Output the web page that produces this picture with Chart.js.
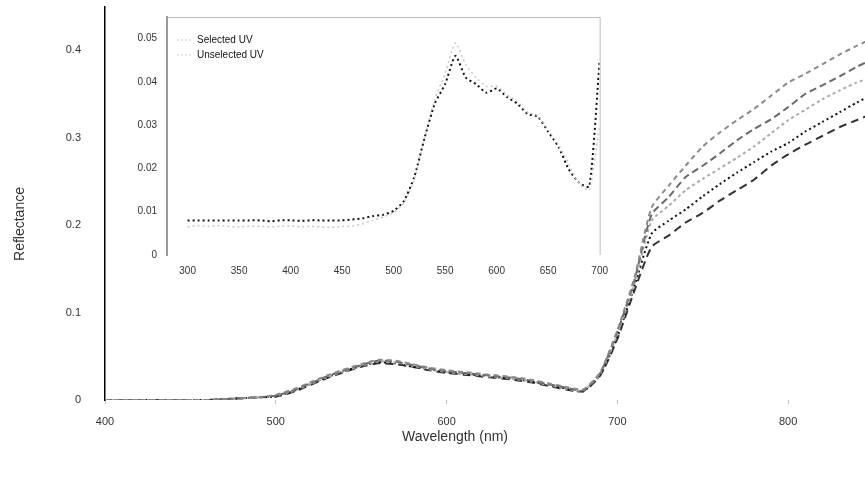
<!DOCTYPE html>
<html>
<head>
<meta charset="utf-8">
<script src="https://cdn.jsdelivr.net/npm/chart.js@4/dist/chart.umd.min.js"></script>
<style>
  body { margin: 0; background: #fff; }
  #wrap { position: relative; width: 865px; height: 483px; }
  #main { position: absolute; left: 0; top: 0; }
  #inset { position: absolute; left: 125px; top: 10px; background: #fff; }
</style>
</head>
<body>
<div id="wrap">
  <canvas id="main" width="865" height="483"></canvas>
  <canvas id="inset" width="485" height="270"></canvas>
</div>
<script>
// ─── main chart data ───
const wavelengths = [400, 410, 420, 430, 440, 450, 460, 470, 480, 490, 500, 510, 520, 530, 540, 550,
  560, 570, 580, 590, 600, 610, 620, 630, 640, 650, 660, 670, 680, 690, 700, 710,
  720, 730, 740, 750, 760, 770, 780, 790, 800, 810, 820, 830, 840, 850];

const leaf1 = [0, 0, 0, 0, 0, 0, 0, 0.001, 0.002, 0.003, 0.006, 0.012, 0.02, 0.028, 0.035, 0.041,
  0.046, 0.045, 0.041, 0.037, 0.034, 0.032, 0.03, 0.028, 0.026, 0.023, 0.019, 0.015, 0.012, 0.032, 0.08, 0.14,
  0.22, 0.245, 0.268, 0.29, 0.306, 0.32, 0.333, 0.348, 0.363, 0.373, 0.384, 0.395, 0.405, 0.414];
const leaf2 = [0, 0, 0, 0, 0, 0, 0, 0.001, 0.002, 0.003, 0.005, 0.011, 0.019, 0.027, 0.034, 0.04,
  0.045, 0.044, 0.04, 0.036, 0.033, 0.031, 0.029, 0.027, 0.025, 0.022, 0.018, 0.014, 0.011, 0.031, 0.078, 0.137,
  0.212, 0.232, 0.255, 0.268, 0.282, 0.297, 0.31, 0.321, 0.335, 0.35, 0.36, 0.37, 0.381, 0.39];
const leaf3 = [0, 0, 0, 0, 0, 0, 0, 0.001, 0.002, 0.003, 0.005, 0.01, 0.018, 0.026, 0.033, 0.039,
  0.044, 0.043, 0.039, 0.035, 0.032, 0.03, 0.028, 0.026, 0.024, 0.021, 0.017, 0.013, 0.011, 0.03, 0.075, 0.133,
  0.205, 0.222, 0.24, 0.253, 0.265, 0.277, 0.29, 0.305, 0.32, 0.332, 0.344, 0.354, 0.363, 0.37];
const leaf4 = [0, 0, 0, 0, 0, 0, 0, 0.001, 0.002, 0.003, 0.004, 0.01, 0.018, 0.026, 0.033, 0.039,
  0.043, 0.042, 0.038, 0.035, 0.032, 0.03, 0.028, 0.026, 0.024, 0.021, 0.017, 0.013, 0.01, 0.029, 0.072, 0.13,
  0.19, 0.205, 0.218, 0.233, 0.247, 0.26, 0.272, 0.284, 0.294, 0.307, 0.318, 0.329, 0.34, 0.35];
const leaf5 = [0, 0, 0, 0, 0, 0, 0, 0.001, 0.002, 0.003, 0.004, 0.009, 0.017, 0.025, 0.032, 0.038,
  0.042, 0.041, 0.038, 0.034, 0.031, 0.029, 0.027, 0.025, 0.023, 0.02, 0.016, 0.012, 0.01, 0.028, 0.07, 0.125,
  0.175, 0.188, 0.203, 0.214, 0.228, 0.24, 0.252, 0.268, 0.281, 0.292, 0.302, 0.312, 0.32, 0.328];

// ─── inset data ───
const insetWavelengths = [300, 310, 320, 330, 340, 350, 360, 370, 380, 390, 400, 410, 420, 430, 440, 450,
  460, 470, 480, 490, 500, 510, 520, 530, 540, 550, 560, 570, 580, 590, 600, 610,
  620, 630, 640, 650, 660, 670, 680, 690, 700];
const selectedUV = [0.008, 0.008, 0.008, 0.008, 0.008, 0.008, 0.008, 0.008, 0.0078, 0.008, 0.008, 0.0079,
  0.008, 0.008, 0.008, 0.008, 0.0082, 0.0085, 0.009, 0.0093, 0.0102, 0.0125, 0.018, 0.027, 0.035, 0.0395,
  0.046, 0.041, 0.0395, 0.0375, 0.0385, 0.0365, 0.035, 0.0326, 0.032, 0.0285, 0.025, 0.0198, 0.0167, 0.0158, 0.045];
const otherUV = [0.0065, 0.0068, 0.0066, 0.0068, 0.0066, 0.0065, 0.0067, 0.0066, 0.0065, 0.0066, 0.0067, 0.0065,
  0.0066, 0.0065, 0.0064, 0.0066, 0.0067, 0.0072, 0.008, 0.0088, 0.0098, 0.012, 0.0175, 0.027, 0.036, 0.042,
  0.049, 0.044, 0.041, 0.039, 0.039, 0.037, 0.0355, 0.033, 0.0322, 0.029, 0.0255, 0.021, 0.0165, 0.015, 0.03];
const insetLabels = ['Selected UV', 'Unselected UV'];

const FONT = "'Liberation Sans', Arial, sans-serif";
const INK = '#333';

function pairs(xs, ys) {
  return xs.map((x, i) => ({ x, y: ys[i] }));
}

function line(data, color, dash, width) {
  return {
    data,
    borderColor: color,
    borderDash: dash,
    borderWidth: width,
    pointRadius: 0,
    fill: false,
    tension: 0.2,
  };
}

// axis titles for the main chart
const mainTitles = {
  id: 'mainTitles',
  afterDraw(chart) {
    const { ctx } = chart;
    ctx.save();
    ctx.fillStyle = INK;
    ctx.font = `14px ${FONT}`;
    ctx.textAlign = 'center';
    ctx.textBaseline = 'middle';
    ctx.fillText('Wavelength (nm)', 455, 437);
    ctx.translate(20, 224);
    ctx.rotate(-Math.PI / 2);
    ctx.fillText('Reflectance', 0, 0);
    ctx.restore();
  },
};

new Chart(document.getElementById('main'), {
  type: 'line',
  data: {
    datasets: [
      line(pairs(wavelengths, leaf1), '#8a8a8a', [5, 4], 2),
      line(pairs(wavelengths, leaf2), '#6a6a6a', [7, 4], 2),
      line(pairs(wavelengths, leaf3), '#aaaaaa', [3, 3], 2),
      line(pairs(wavelengths, leaf4), '#111111', [2, 3], 2),
      line(pairs(wavelengths, leaf5), '#333333', [8, 5], 2),
    ],
  },
  options: {
    responsive: false,
    animation: false,
    layout: { padding: { top: 0, right: 0, left: 0, bottom: 0 } },
    plugins: { legend: { display: false }, tooltip: { enabled: false } },
    scales: {
      x: {
        type: 'linear',
        min: 400,
        max: 845,
        afterFit(s) { s.height = 83; },
        ticks: {
          stepSize: 100,
          includeBounds: false,
          color: INK,
          font: { family: FONT, size: 11 },
          padding: 11,
          maxRotation: 0,
        },
        grid: { drawOnChartArea: false, tickLength: 4, color: '#bbb' },
        border: { display: false },
      },
      y: {
        min: 0,
        max: 0.45,
        afterFit(s) { s.width = 105; },
        ticks: {
          stepSize: 0.1,
          includeBounds: false,
          color: INK,
          font: { family: FONT, size: 11 },
          padding: 0,
        },
        grid: { drawOnChartArea: false, tickLength: 24, tickColor: 'rgba(0,0,0,0)' },
        border: { color: '#000', width: 1.5 },
      },
    },
  },
  plugins: [mainTitles],
});

// inset frame + legend
const insetDeco = {
  id: 'insetDeco',
  afterDraw(chart) {
    const { ctx, chartArea: a } = chart;
    ctx.save();
    ctx.strokeStyle = '#bbb';
    ctx.lineWidth = 1;
    ctx.beginPath();
    ctx.moveTo(a.left, a.top + 0.5);
    ctx.lineTo(a.right + 0.5, a.top + 0.5);
    ctx.lineTo(a.right + 0.5, a.bottom);
    ctx.stroke();

    ctx.font = `10px ${FONT}`;
    ctx.textBaseline = 'middle';
    insetLabels.forEach((label, i) => {
      const y = a.top + 23 + i * 15;
      ctx.strokeStyle = '#ccc';
      ctx.setLineDash([2, 2]);
      ctx.beginPath();
      ctx.moveTo(a.left + 10, y);
      ctx.lineTo(a.left + 24, y);
      ctx.stroke();
      ctx.setLineDash([]);
      ctx.fillStyle = '#111';
      ctx.fillText(label, a.left + 30, y);
    });
    ctx.restore();
  },
};

new Chart(document.getElementById('inset'), {
  type: 'line',
  data: {
    datasets: [
      line(pairs(insetWavelengths, otherUV), '#c8c8c8', [2, 3], 1.5),
      line(pairs(insetWavelengths, selectedUV), '#111', [2, 3], 2),
    ],
  },
  options: {
    responsive: false,
    animation: false,
    layout: { padding: { top: 7, right: 10, left: 0, bottom: 0 } },
    plugins: { legend: { display: false }, tooltip: { enabled: false } },
    scales: {
      x: {
        type: 'linear',
        min: 280,
        max: 700,
        afterFit(s) { s.height = 25; },
        ticks: {
          stepSize: 50,
          includeBounds: false,
          color: INK,
          font: { family: FONT, size: 10 },
          padding: 2,
          maxRotation: 0,
        },
        grid: { display: false },
        border: { display: false },
      },
      y: {
        min: 0,
        max: 0.055,
        afterFit(s) { s.width = 42; },
        ticks: {
          stepSize: 0.01,
          includeBounds: false,
          color: INK,
          font: { family: FONT, size: 10 },
          padding: 0,
        },
        grid: { drawOnChartArea: false, tickLength: 10, tickColor: 'rgba(0,0,0,0)' },
        border: { color: '#999', dash: [1, 8], width: 2 },
      },
    },
  },
  plugins: [insetDeco],
});
</script>
</body>
</html>
